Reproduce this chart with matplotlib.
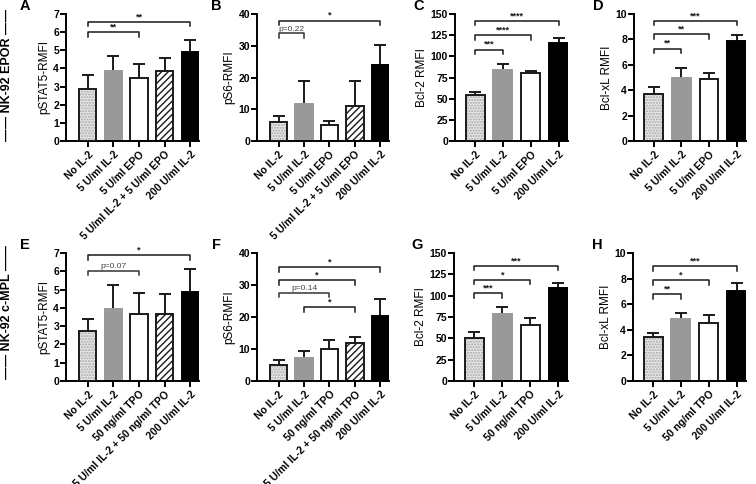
import matplotlib.pyplot as plt

plt.rcParams['font.family'] = ['Liberation Sans', 'DejaVu Sans']
plt.rcParams['font.weight'] = 'bold'
plt.rcParams['hatch.linewidth'] = 1.0

# group labels
epor_5 = ["No IL-2", "5 U/ml IL-2", "5 U/ml EPO", "5 U/ml IL-2 + 5 U/ml EPO", "200 U/ml IL-2"]
epor_4 = ["No IL-2", "5 U/ml IL-2", "5 U/ml EPO", "200 U/ml IL-2"]
mpl_5 = ["No IL-2", "5 U/ml IL-2", "50 ng/ml TPO", "5 U/ml IL-2 + 50 ng/ml TPO", "200 U/ml IL-2"]
mpl_4 = ["No IL-2", "5 U/ml IL-2", "50 ng/ml TPO", "200 U/ml IL-2"]

# NK-92 EPOR
a_mean = [2.89, 3.85, 3.5, 3.85, 4.92]
a_err = [0.73, 0.81, 0.77, 0.71, 0.63]
b_mean = [5.9, 11.5, 5.0, 11.0, 24.0]
b_err = [2.1, 7.3, 1.4, 7.8, 6.2]
c_mean = [54, 84, 80, 116]
c_err = [3.5, 7, 3, 6]
d_mean = [3.73, 5.0, 4.92, 7.91]
d_err = [0.5, 0.74, 0.42, 0.45]

# NK-92 c-MPL
e_mean = [2.75, 3.92, 3.66, 3.64, 4.87]
e_err = [0.63, 1.35, 1.16, 1.14, 1.27]
f_mean = [5.0, 7.2, 10.0, 11.8, 20.4]
f_err = [1.5, 2.3, 2.8, 2.0, 5.2]
g_mean = [50, 78, 65.5, 109]
g_err = [7.4, 8.8, 8.8, 6.4]
h_mean = [3.44, 4.81, 4.5, 7.01]
h_err = [0.3, 0.51, 0.63, 0.66]

# significance brackets: (from bar, to bar, height, label)
a_sig = [(0, 2, 6.0, "**"), (0, 4, 6.57, "**")]
b_sig = [(0, 1, 33.9, "p=0.22"), (0, 4, 37.9, "*")]
c_sig = [(0, 1, 108, "***"), (0, 2, 125, "****"), (0, 3, 141.7, "****")]
d_sig = [(0, 1, 7.28, "**"), (0, 2, 8.41, "**"), (0, 3, 9.47, "***")]
e_sig = [(0, 2, 6.03, "p=0.07"), (0, 4, 6.87, "*")]
f_sig = [(1, 3, 23.0, "*"), (0, 2, 27.5, "p=0.14"), (0, 3, 31.5, "*"), (0, 4, 35.6, "*")]
g_sig = [(0, 1, 102.9, "***"), (0, 2, 118.5, "*"), (0, 3, 134.8, "***")]
h_sig = [(0, 1, 6.77, "**"), (0, 2, 7.88, "*"), (0, 3, 8.97, "***")]

styles5 = ["dots", "gray", "white", "stripe", "black"]
styles4 = ["dots", "gray", "white", "black"]
EDGE = "#1a1a1a"
W = 0.68


def panel(ax, labels, means, errs, ymax, ystep, ylabel, letter, sig, styles):
    x = list(range(len(means)))
    for i, m in enumerate(means):
        s = styles[i]
        if s == "dots":
            ax.bar(i, m, W, color="#e6e6e6", edgecolor="#a8a8a8", hatch="......", lw=0, zorder=2)
            ax.bar(i, m, W, fill=False, edgecolor=EDGE, lw=1.4, zorder=3)
        elif s == "gray":
            ax.bar(i, m, W, color="#999999", edgecolor="#999999", lw=1.4, zorder=2)
        elif s == "white":
            ax.bar(i, m, W, color="white", edgecolor=EDGE, lw=1.4, zorder=2)
        elif s == "stripe":
            ax.bar(i, m, W, color="white", edgecolor=EDGE, hatch="/////", lw=1.4, zorder=2)
        else:
            ax.bar(i, m, W, color="black", edgecolor="black", lw=1.4, zorder=2)
    eb = ax.errorbar(x, means, yerr=[[0] * len(means), errs], fmt="none", ecolor=EDGE,
                     elinewidth=1.4, capsize=4.5, capthick=1.4, zorder=1)
    eb[1][0].set_visible(False)

    n = len(means)
    if n == 5:
        ax.set_xlim(-0.85, n - 1 + W / 2)
    else:
        ax.set_xlim(-0.72, n - 1 + W / 2)
    ax.set_ylim(0, ymax)
    ax.set_yticks(range(0, ymax + 1, ystep))
    ax.set_xticks(x)
    ax.set_xticklabels(labels, rotation=45, ha="right", rotation_mode="anchor", fontsize=7.5)
    ax.tick_params(axis="y", labelsize=7.5, width=1.4, length=4, pad=1)
    ax.tick_params(axis="x", width=1.4, length=4, pad=2)
    for sp in ["top", "right"]:
        ax.spines[sp].set_visible(False)
    for sp in ["left", "bottom"]:
        ax.spines[sp].set_linewidth(1.4)
    ax.set_ylabel(ylabel, fontsize=8.5, labelpad=2)
    ax.text(-0.27, 1.06, letter, transform=ax.transAxes, fontsize=10.5, fontweight="bold",
            ha="right", va="center")

    d = ymax * 0.035
    for i, j, y, t in sig:
        pv = t.startswith("p")
        col = "#333333" if pv else EDGE
        ax.plot([i, i, j, j], [y - d, y, y, y - d], color=col, lw=1.1, clip_on=False, zorder=4)
        ax.text((i + j) / 2, y + ymax * 0.005, t, ha="center", va="bottom",
                fontsize=6 if pv else 6.5, fontweight="normal" if pv else "bold",
                color="#444444" if pv else EDGE)


fig = plt.figure(figsize=(7.56, 4.84), dpi=100)
W_px, H_px = 756.0, 484.0


def axes_at(x0, x1, ytop, ybot):
    return fig.add_axes([x0 / W_px, 1 - ybot / H_px, (x1 - x0) / W_px, (ybot - ytop) / H_px])


axA = axes_at(66, 199, 14, 141)
axB = axes_at(257, 389, 14, 141)
axC = axes_at(455, 568, 14, 141)
axD = axes_at(634, 746, 14, 141)
axE = axes_at(66, 199, 253, 381)
axF = axes_at(257, 389, 253, 381)
axG = axes_at(454, 568, 253, 381)
axH = axes_at(633, 746, 253, 381)

panel(axA, epor_5, a_mean, a_err, 7, 1, "pSTAT5-RMFI", "A", a_sig, styles5)
panel(axB, epor_5, b_mean, b_err, 40, 10, "pS6-RMFI", "B", b_sig, styles5)
panel(axC, epor_4, c_mean, c_err, 150, 25, "Bcl-2 RMFI", "C", c_sig, styles4)
panel(axD, epor_4, d_mean, d_err, 10, 2, "Bcl-xL RMFI", "D", d_sig, styles4)
panel(axE, mpl_5, e_mean, e_err, 7, 1, "pSTAT5-RMFI", "E", e_sig, styles5)
panel(axF, mpl_5, f_mean, f_err, 40, 10, "pS6-RMFI", "F", f_sig, styles5)
panel(axG, mpl_4, g_mean, g_err, 150, 25, "Bcl-2 RMFI", "G", g_sig, styles4)
panel(axH, mpl_4, h_mean, h_err, 10, 2, "Bcl-xL RMFI", "H", h_sig, styles4)

fig.text(7 / W_px, 1 - 75 / H_px, "\u2014\u2014 NK-92 EPOR \u2014\u2014", rotation=90,
         ha="center", va="center", fontsize=9, fontweight="bold")
fig.text(7 / W_px, 1 - 312 / H_px, "\u2014\u2014 NK-92 c-MPL \u2014\u2014", rotation=90,
         ha="center", va="center", fontsize=9, fontweight="bold")

fig.savefig("out.png", dpi=100)
